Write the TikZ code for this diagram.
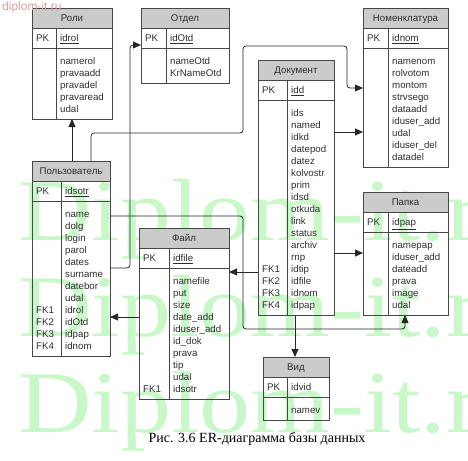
\documentclass[tikz,border=0pt]{standalone}
\usepackage{fontspec}
\setmainfont{Liberation Serif}
\newfontfamily\tblfont{Liberation Sans}
\usetikzlibrary{arrows.meta,calc}
\definecolor{ink}{HTML}{2E2E2E}
\definecolor{erline}{HTML}{474747}
\definecolor{erhead}{HTML}{CBCBCB}
\definecolor{wmgreen}{HTML}{C8F7C8}
\definecolor{wmred}{HTML}{E39A9A}

% name, x, y, width, divider, title, pk, rows (key/attr), number of rows
\newcommand{\ertable}[9]{%
  \pgfmathsetmacro{\tblh}{51+12*#9}%
  \fill[erhead] (#2,#3) rectangle ++(#4,20);
  \node[tbl,minimum width=#4,minimum height=\tblh] (#1) at (#2,#3) {};
  \draw[erline,line width=0.8pt] ($(#1.north west)+(0,20)$) -- ++(#4,0);
  \draw[erline,line width=0.8pt] ($(#1.north west)+(0,40)$) -- ++(#4,0);
  \draw[erline,line width=0.8pt] ($(#1.north west)+(#5,20)$) -- ($(#1.south west)+(#5,0)$);
  \node[ttl] at ($(#1.north)+(0,13.5)$) {#6};
  \node[fld] at ($(#1.north west)+(4,33.5)$) {PK};
  \node[fld] at ($(#1.north west)+(#5+4,33.5)$) {#7};
  \foreach[count=\i] \k/\a in {#8} {
    \node[fld] at ($(#1.north west)+(4,44.5+12*\i)$) {\k};
    \node[fld] at ($(#1.north west)+(#5+4,44.5+12*\i)$) {\a};
  }%
}

\begin{document}
\begin{tikzpicture}[x=1pt,y=-1pt,
  tbl/.style={draw=erline,line width=0.8pt,anchor=north west,inner sep=0pt,outer sep=0pt},
  ttl/.style={anchor=base,inner sep=0pt,text=ink,font=\tblfont\fontsize{9.7}{12}\selectfont},
  fld/.style={anchor=base west,inner sep=0pt,text=ink,font=\tblfont\fontsize{9.7}{12}\selectfont},
  fk/.style={draw=black!85,line width=0.8pt,rounded corners=3pt,-{Triangle[length=8pt,width=7pt]}},
  wmark/.style={anchor=base west,inner sep=0pt,text=wmgreen,xscale=1.16,font=\fontsize{88}{88}\selectfont}]
 \useasboundingbox (0,0) rectangle (468,460);
 \begin{scope}
  \clip (0,0) rectangle (468,460);
  \foreach \yy in {240,336,432} \node[wmark] at (18,\yy) {Diplom-it.ru};
 \end{scope}

 \ertable{roli}{32}{8}{80}{24}{Роли}{\underline{idrol}}
   {/namerol,/pravaadd,/pravadel,/pravaread,/udal}{5}
 \ertable{otdel}{141}{8}{88}{25}{Отдел}{\underline{idOtd}}
   {/nameOtd,/KrNameOtd}{2}
 \ertable{nomen}{363}{8}{85}{25}{Номенклатура}{\underline{idnom}}
   {/namenom,/rolvotom,/montom,/strvsego,/dataadd,/iduser\_add,/udal,/iduser\_del,/datadel}{9}
 \ertable{doc}{258}{60}{76}{29}{Документ}{\underline{idd}}
   {/ids,/named,/idkd,/datepod,/datez,/kolvostr,/prim,/idsd,/otkuda,/link,/status,/archiv,/rnp,
    FK1/idtip,FK2/idfile,FK3/idnom,FK4/idpap}{17}
 \ertable{polz}{32}{161}{78}{29}{Пользователь}{\underline{idsotr}}
   {/name,/dolg,/login,/parol,/dates,/surname,/datebor,/udal,FK1/idrol,FK2/idOtd,FK3/idpap,FK4/idnom}{12}
 \ertable{fail}{139}{228}{90}{30}{Файл}{\underline{idfile}}
   {/namefile,/put,/size,/date\_add,/iduser\_add,/id\_dok,/prava,/tip,/udal,FK1/idsotr}{10}
 \ertable{papka}{363}{192}{85}{25}{Папка}{\underline{idpap}}
   {/namepap,/iduser\_add,/dateadd,/prava,/image,/udal}{6}
 \ertable{vid}{263}{357}{66}{24}{Вид}{idvid}{/namev}{1}

 \coordinate (u1) at ($(polz.north west)+(59,0)$);
 \coordinate (u2) at ($(polz.north east)+(0,107)$);
 \coordinate (u3) at ($(polz.north east)+(0,55)$);
 \coordinate (f1) at ($(fail.north west)+(0,89)$);
 \coordinate (d1) at ($(doc.north west)+(0,212)$);
 \coordinate (d2) at ($(doc.north east)+(0,72)$);
 \coordinate (d3) at ($(doc.north east)+(0,193)$);
 \coordinate (d4) at ($(doc.south west)+(37,0)$);

 \draw[fk] (roli.south |- polz.north) -- (roli.south);
 \draw[fk] (u1) |- (243,133) |- (347,46) |- ($(nomen.north west)+(0,80)$);
 \draw[fk] (u2) -| (130,45) -- ($(otdel.north west)+(0,37)$);
 \draw[fk] (u3) -| (243,329) -| ($(papka.south west)+(42,0)$);
 \draw[fk] (f1) -- (polz.east |- f1);
 \draw[fk] (d1) -- (fail.east |- d1);
 \draw[fk] (d2) -- (nomen.west |- d2);
 \draw[fk] (d3) -- (papka.west |- d3);
 \draw[fk] (d4) -- (vid.north -| d4);

 \node[anchor=base,inner sep=0pt,font=\fontsize{14}{16}\selectfont] (cap) at (257,442)
   {Рис. 3.6 ER-диаграмма базы данных};
 \node[anchor=base west,inner sep=0pt,text=wmred,font=\tblfont\fontsize{12}{12}\selectfont] (site) at (2,11)
   {diplom-it.ru};
\end{tikzpicture}
\end{document}
